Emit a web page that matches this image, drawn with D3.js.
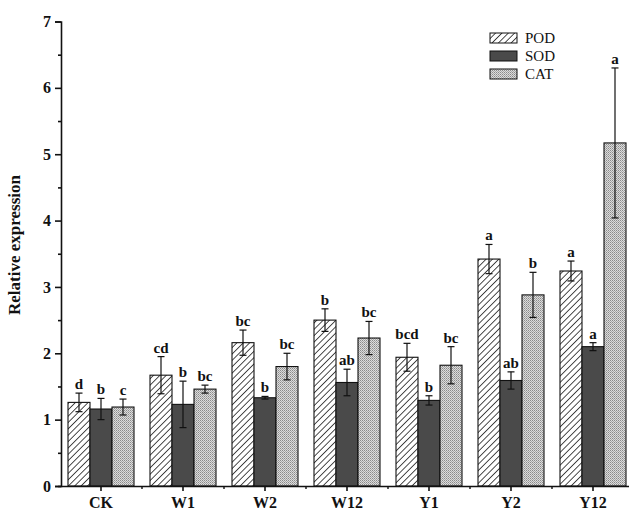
<!DOCTYPE html>
<html>
<head>
<meta charset="utf-8">
<script src="https://cdn.jsdelivr.net/npm/d3@7"></script>
<style>
	body { margin: 0; background: #fff; }
	svg { display: block; }
</style>
</head>
<body>
<div id="chart"></div>
<script>

	var groups = ['CK', 'W1', 'W2', 'W12', 'Y1', 'Y2', 'Y12'];
	var series = ['POD', 'SOD', 'CAT'];

	var podMean = [1.26, 1.67, 2.16, 2.50, 1.94, 3.42, 3.24];
	var podErr = [0.14, 0.28, 0.19, 0.17, 0.21, 0.22, 0.15];
	var podSig = ['d', 'cd', 'bc', 'b', 'bcd', 'a', 'a'];

	var sodMean = [1.16, 1.23, 1.33, 1.56, 1.29, 1.59, 2.10];
	var sodErr = [0.16, 0.35, 0.02, 0.20, 0.07, 0.13, 0.06];
	var sodSig = ['b', 'b', 'b', 'ab', 'b', 'ab', 'a'];

	var catMean = [1.19, 1.46, 1.80, 2.23, 1.82, 2.88, 5.17];
	var catErr = [0.12, 0.06, 0.20, 0.25, 0.28, 0.34, 1.13];
	var catSig = ['c', 'bc', 'bc', 'bc', 'bc', 'b', 'a'];

	var yTicks = [0, 1, 2, 3, 4, 5, 6, 7];

	var width = 629, height = 510;
	var serif = '"Liberation Serif", "Times New Roman", serif';

	// flatten into one row per bar
	var rows = [];
	groups.forEach(function(g, i){
		rows.push({group: g, key: 'POD', mean: podMean[i], err: podErr[i], sig: podSig[i]});
		rows.push({group: g, key: 'SOD', mean: sodMean[i], err: sodErr[i], sig: sodSig[i]});
		rows.push({group: g, key: 'CAT', mean: catMean[i], err: catErr[i], sig: catSig[i]});
	});

	var svg = d3.select('#chart').append('svg')
		.attr('width', width)
		.attr('height', height);

	var defs = svg.append('defs');

	// hatched pattern for POD
	var hatch = defs.append('pattern')
		.attr('id', 'hatch')
		.attr('patternUnits', 'userSpaceOnUse')
		.attr('width', 4.5)
		.attr('height', 4.5)
		.attr('patternTransform', 'rotate(45)');
	hatch.append('rect').attr('width', 4.5).attr('height', 4.5).attr('fill', '#fff');
	hatch.append('line')
		.attr('x1', 0).attr('y1', 0).attr('x2', 0).attr('y2', 4.5)
		.attr('stroke', '#111').attr('stroke-width', 1.5);

	// fine dotted pattern for CAT
	var dots = defs.append('pattern')
		.attr('id', 'dots')
		.attr('patternUnits', 'userSpaceOnUse')
		.attr('width', 2)
		.attr('height', 2);
	dots.append('rect').attr('width', 2).attr('height', 2).attr('fill', '#dcdcdc');
	dots.append('rect').attr('width', 1).attr('height', 1).attr('fill', '#8a8a8a');
	dots.append('rect').attr('x', 1).attr('y', 1).attr('width', 1).attr('height', 1).attr('fill', '#a8a8a8');

	var fills = {POD: 'url(#hatch)', SOD: '#4a4a4a', CAT: 'url(#dots)'};

	var xScale = d3.scaleBand()
		.domain(groups)
		.range([60, 634]);

	var bw = xScale.bandwidth();
	var xSub = d3.scaleBand()
		.domain(series)
		.range([(bw - 66) / 2, (bw + 66) / 2]);

	var yScale = d3.scaleLinear()
		.domain([0, 7])
		.range([486, 21.5]);

	// bars
	svg.selectAll('.bar')
		.data(rows)
		.enter().append('rect')
		.attr('class', 'bar')
		.attr('x', function(d){ return xScale(d.group) + xSub(d.key); })
		.attr('y', function(d){ return yScale(d.mean); })
		.attr('width', xSub.bandwidth())
		.attr('height', function(d){ return yScale(0) - yScale(d.mean); })
		.attr('fill', function(d){ return fills[d.key]; })
		.attr('stroke', '#111')
		.attr('stroke-width', 1.1);

	// error bars
	var err = svg.selectAll('.err')
		.data(rows)
		.enter().append('g')
		.attr('class', 'err')
		.attr('stroke', '#111')
		.attr('stroke-width', 1.2)
		.attr('transform', function(d){ return 'translate(' + (xScale(d.group) + xSub(d.key) + xSub.bandwidth() / 2) + ',0)'; });

	err.append('line')
		.attr('y1', function(d){ return yScale(d.mean + d.err); })
		.attr('y2', function(d){ return yScale(d.mean - d.err); });
	err.append('line')
		.attr('x1', -3.5).attr('x2', 3.5)
		.attr('y1', function(d){ return yScale(d.mean + d.err); })
		.attr('y2', function(d){ return yScale(d.mean + d.err); });
	err.append('line')
		.attr('x1', -3.5).attr('x2', 3.5)
		.attr('y1', function(d){ return yScale(d.mean - d.err); })
		.attr('y2', function(d){ return yScale(d.mean - d.err); });

	// significance letters
	svg.selectAll('.sig')
		.data(rows)
		.enter().append('text')
		.attr('class', 'sig')
		.attr('x', function(d){ return xScale(d.group) + xSub(d.key) + xSub.bandwidth() / 2; })
		.attr('y', function(d){ return yScale(d.mean + d.err) - 4; })
		.attr('text-anchor', 'middle')
		.attr('font-family', serif)
		.attr('font-weight', 'bold')
		.attr('font-size', '15px')
		.attr('fill', '#111')
		.text(function(d){ return d.sig; });

	// y axis, with half-step minor ticks
	var yAxis = svg.append('g')
		.attr('transform', 'translate(61,0)')
		.call(d3.axisLeft(yScale).tickValues(yTicks).tickSize(6).tickPadding(4).tickFormat(d3.format('d')));
	svg.append('g')
		.attr('transform', 'translate(61,0)')
		.call(d3.axisLeft(yScale).tickValues(yTicks.slice(1).map(function(t){ return t - 0.5; })).tickSize(3).tickFormat(''))
		.select('.domain').remove();

	// x axis, minor ticks at the band edges
	var xAxis = svg.append('g')
		.attr('transform', 'translate(0,486)')
		.call(d3.axisBottom(xScale).tickSize(5).tickPadding(6).tickSizeOuter(0));
	svg.append('g')
		.attr('transform', 'translate(0,486)')
		.selectAll('line')
		.data(groups.slice(1))
		.enter().append('line')
		.attr('x1', function(d){ return xScale(d); })
		.attr('x2', function(d){ return xScale(d); })
		.attr('y1', 0).attr('y2', 3)
		.attr('stroke', '#111')
		.attr('stroke-width', 1.4);

	[yAxis, xAxis].forEach(function(ax){
		ax.selectAll('text')
			.attr('font-family', serif)
			.attr('font-weight', 'bold')
			.attr('font-size', '16px')
			.attr('fill', '#111');
	});
	svg.selectAll('.domain, .tick line')
		.attr('stroke', '#111')
		.attr('stroke-width', 1.6);

	// keep the x axis line to the left edge of the plot
	xAxis.select('.domain').attr('d', 'M58,0.5H' + width);

	// y axis title
	svg.append('text')
		.attr('transform', 'translate(20,245) rotate(-90)')
		.attr('text-anchor', 'middle')
		.attr('font-family', serif)
		.attr('font-weight', 'bold')
		.attr('font-size', '17px')
		.attr('fill', '#111')
		.text('Relative expression');

	// legend
	var legend = svg.selectAll('.legend')
		.data(series)
		.enter().append('g')
		.attr('class', 'legend')
		.attr('transform', function(d, i){ return 'translate(490,' + (38 + i * 18) + ')'; });

	legend.append('rect')
		.attr('x', 0)
		.attr('y', -5)
		.attr('width', 27)
		.attr('height', 10)
		.attr('fill', function(d){ return fills[d]; })
		.attr('stroke', '#111')
		.attr('stroke-width', 1);

	legend.append('text')
		.attr('x', 35)
		.attr('y', 0)
		.attr('dy', '0.35em')
		.attr('font-family', serif)
		.attr('font-size', '15px')
		.attr('fill', '#111')
		.text(function(d){ return d; });

</script>
</body>
</html>
